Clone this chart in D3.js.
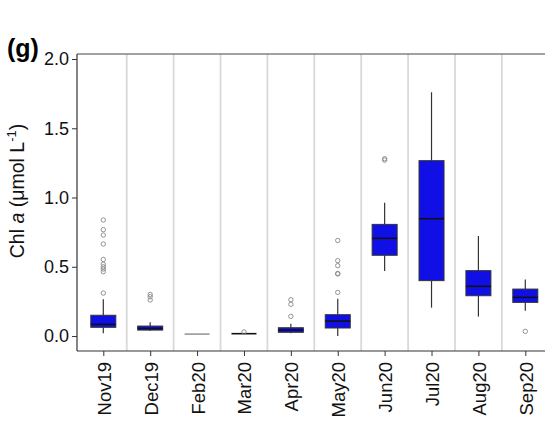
<!DOCTYPE html>
<html>
<head>
<meta charset="utf-8">
<script src="https://cdn.jsdelivr.net/npm/d3@7"></script>
<style>
  html, body { margin: 0; padding: 0; background: #fff; }
  svg { display: block; }
  text { font-family: "Liberation Sans", Arial, sans-serif; }
</style>
</head>
<body>
<svg id="chart" width="545" height="423"></svg>
<script>
// ---- data ----
const categories = ["Nov19","Dec19","Feb20","Mar20","Apr20","May20","Jun20","Jul20","Aug20","Sep20"];
const whiskerLow  = [0.020, 0.038, 0.014, 0.017, 0.020, 0.000, 0.469, 0.205, 0.140, 0.183];
const q1          = [0.063, 0.043, 0.014, 0.017, 0.027, 0.058, 0.583, 0.400, 0.291, 0.243];
const medians     = [0.084, 0.055, 0.014, 0.017, 0.043, 0.108, 0.705, 0.847, 0.359, 0.279];
const q3          = [0.150, 0.072, 0.014, 0.017, 0.060, 0.154, 0.806, 1.266, 0.472, 0.339];
const whiskerHigh = [0.265, 0.100, 0.014, 0.017, 0.089, 0.270, 0.963, 1.760, 0.722, 0.409];
const outliers = [
  [0.310, 0.464, 0.484, 0.500, 0.518, 0.553, 0.664, 0.729, 0.768, 0.838],
  [0.260, 0.284, 0.300],
  [],
  [0.029],
  [0.142, 0.229, 0.262],
  [0.315, 0.448, 0.452, 0.508, 0.544, 0.690],
  [1.270, 1.280],
  [],
  [],
  [0.034]
];
const yTicks = [0, 0.5, 1.0, 1.5, 2.0];
const yLimits = [-0.108, 2.036];
const panelLabel = "(g)";

// ---- layout ----
const svg = d3.select("#chart");
const pLeft = 77, pRight = 553, pTop = 54, pBottom = 351;

const x = d3.scalePoint().domain(categories).range([103.3, 525.3]);
const y = d3.scaleLinear().domain(yLimits).range([pBottom, pTop]);

// panel label
svg.append("text").attr("x", 7).attr("y", 57)
  .attr("font-size", 25).attr("font-weight", "bold").attr("fill", "#000")
  .text(panelLabel);

// separators between months
const seps = categories.slice(1).map((c, i) => (x(categories[i]) + x(c)) / 2);
svg.append("g").selectAll("line").data(seps).join("line")
  .attr("x1", d => d).attr("x2", d => d).attr("y1", pTop).attr("y2", pBottom)
  .attr("stroke", "#d9d9d9").attr("stroke-width", 1.8);

// panel border (top)
svg.append("line").attr("x1", pLeft).attr("x2", pRight).attr("y1", pTop).attr("y2", pTop)
  .attr("stroke", "#444").attr("stroke-width", 1);

// y axis
const yAxis = svg.append("g").attr("transform", `translate(${pLeft},0)`)
  .call(d3.axisLeft(y).tickValues(yTicks).tickFormat(d3.format(".1f")).tickSize(5).tickPadding(3));
yAxis.select(".domain").attr("stroke", "#333").attr("stroke-width", 1.2)
  .attr("d", `M0,${pTop}V${pBottom}`);
yAxis.selectAll(".tick line").attr("stroke", "#333").attr("stroke-width", 1);
yAxis.selectAll(".tick text").attr("font-size", 18).attr("fill", "#111")
  .attr("font-family", "Liberation Sans, Arial, sans-serif");

// x axis
const xAxis = svg.append("g").attr("transform", `translate(0,${pBottom})`)
  .call(d3.axisBottom(x).tickSize(5));
xAxis.select(".domain").attr("stroke", "#333").attr("stroke-width", 1.2)
  .attr("d", `M${pLeft},0H${pRight}`);
xAxis.selectAll(".tick line").attr("stroke", "#333").attr("stroke-width", 1);
xAxis.selectAll(".tick text")
  .attr("transform", "rotate(-90)")
  .attr("text-anchor", "end")
  .attr("x", -11).attr("y", 7).attr("dy", "0em")
  .attr("font-size", 18.5).attr("fill", "#111")
  .attr("font-family", "Liberation Sans, Arial, sans-serif");

// y axis title
const yt = svg.append("text")
  .attr("transform", "translate(24,191) rotate(-90)")
  .attr("text-anchor", "middle").attr("font-size", 19.5).attr("fill", "#111");
yt.append("tspan").text("Chl ");
yt.append("tspan").attr("font-style", "italic").text("a");
yt.append("tspan").text(" (μmol L");
yt.append("tspan").attr("font-size", 13).attr("dy", "-0.6em").text("-1");
yt.append("tspan").attr("dy", "0.4em").text(")");

// boxplots
const boxW = 25;
const g = svg.append("g");
categories.forEach((c, i) => {
  const cx = x(c);
  const gg = g.append("g");
  gg.append("line").attr("x1", cx).attr("x2", cx)
    .attr("y1", y(whiskerLow[i])).attr("y2", y(q1[i]))
    .attr("stroke", "#333").attr("stroke-width", 1.2);
  gg.append("line").attr("x1", cx).attr("x2", cx)
    .attr("y1", y(q3[i])).attr("y2", y(whiskerHigh[i]))
    .attr("stroke", "#333").attr("stroke-width", 1.2);
  gg.append("rect")
    .attr("x", cx - boxW / 2).attr("width", boxW)
    .attr("y", y(q3[i])).attr("height", Math.max(0, y(q1[i]) - y(q3[i])))
    .attr("fill", "#1010e6").attr("stroke", "#333").attr("stroke-width", 1);
  gg.append("line").attr("x1", cx - boxW / 2).attr("x2", cx + boxW / 2)
    .attr("y1", y(medians[i])).attr("y2", y(medians[i]))
    .attr("stroke", i === 2 ? "#999" : "#111").attr("stroke-width", 1.6);
  gg.selectAll("circle").data(outliers[i]).join("circle")
    .attr("cx", cx).attr("cy", d => y(d)).attr("r", 2.2)
    .attr("fill", "none").attr("stroke", "#888").attr("stroke-width", 0.9);
});
</script>
</body>
</html>
